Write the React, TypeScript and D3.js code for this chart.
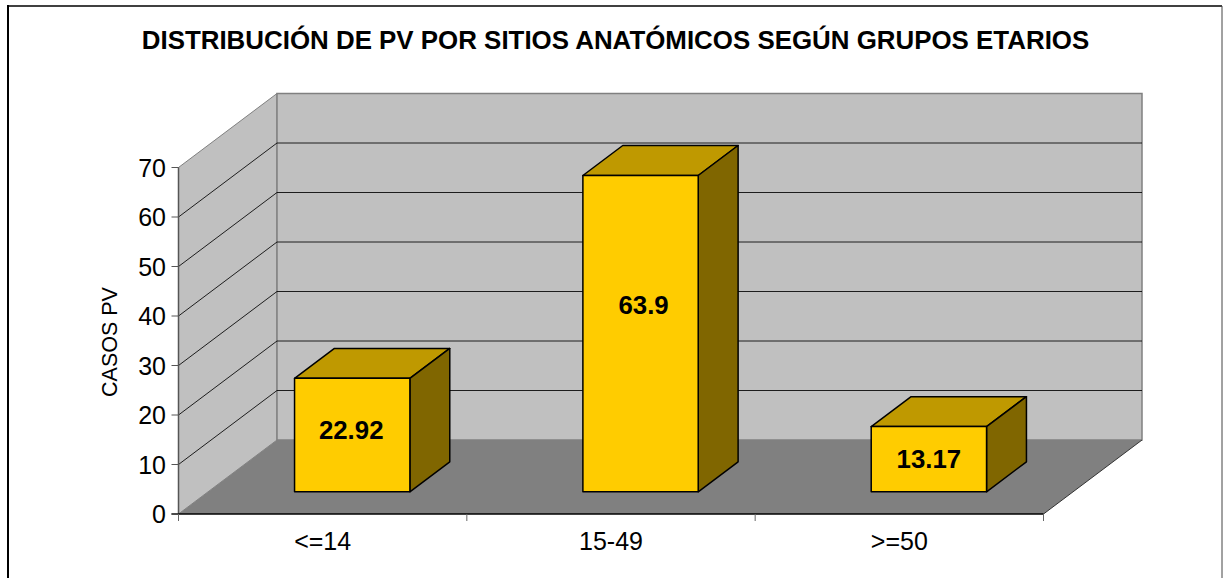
import React from "react";
import * as d3 from "d3";

const categories = ["<=14", "15-49", ">=50"];
const values = [22.92, 63.9, 13.17];
const valueLabels = ["22.92", "63.9", "13.17"];
const yTicks = [0, 10, 20, 30, 40, 50, 60, 70];
const titleText = "DISTRIBUCIÓN DE PV POR SITIOS ANATÓMICOS SEGÚN GRUPOS ETARIOS";
const yAxisTitle = "CASOS PV";

const FONT = "'Liberation Sans', Arial, sans-serif";
const DX = 98.5;
const DY = -74;

const y = d3.scaleLinear().domain([0, 70]).range([514, 167.5]);
const x = d3.scaleBand<string>().domain(categories).range([178.5, 1043.5]);

const pt = (px: number, py: number, depth = 0): [number, number] => [px + DX * depth, py + DY * depth];
const poly = (pts: [number, number][]) => pts.map((p) => p.join(",")).join(" ");

export default function App() {
  const x0 = x.range()[0];
  const x1 = x.range()[1];
  const yb = y(0);
  const yt = y(70);
  const bw = x.bandwidth() * 0.4;
  const d0 = 0.3;
  const d1 = 0.705;
  const labelNudgeX = [-1, 3, 0];
  return (
    <svg width={1230} height={578} style={{ position: "absolute", left: 0, top: 0, background: "#fff" }} fontFamily={FONT}>
      <line x1={8} x2={8} y1={5} y2={578} stroke="#000" strokeWidth={2} />
      <line x1={7} x2={1222} y1={6} y2={6} stroke="#000" strokeWidth={1.5} />
      <line x1={1222} x2={1222} y1={6} y2={578} stroke="#444" strokeWidth={1} />
      <text x={615.5} y={49} textAnchor="middle" fontWeight="bold" fontSize={25.9} fill="#000">{titleText}</text>

      {/* side wall */}
      <polygon points={poly([pt(x0, yb), pt(x0, yb, 1), pt(x0, yt, 1), pt(x0, yt)])} fill="#c0c0c0" stroke="#808080" strokeWidth={1} />
      {/* back wall */}
      <polygon points={poly([pt(x0, yb, 1), pt(x1, yb, 1), pt(x1, yt, 1), pt(x0, yt, 1)])} fill="#c0c0c0" stroke="#808080" strokeWidth={1.5} />
      {/* floor */}
      <polygon points={poly([pt(x0, yb), pt(x1, yb), pt(x1, yb, 1), pt(x0, yb, 1)])} fill="#808080" />

      {/* gridlines */}
      {yTicks.filter((t) => t > 0 && t < 70).map((t) => (
        <polyline key={t} points={poly([pt(x0, y(t)), pt(x0, y(t), 1), pt(x1, y(t), 1)])} fill="none" stroke="#000" strokeWidth={1} opacity={0.85} />
      ))}
      <line x1={pt(x1, yb)[0]} y1={yb} x2={pt(x1, yb, 1)[0]} y2={pt(x1, yb, 1)[1]} stroke="#333" strokeWidth={1} />

      {/* axes */}
      <line x1={x0} y1={yt} x2={x0} y2={yb} stroke="#555" strokeWidth={1.5} />
      <line x1={x0 - 7} y1={yb} x2={x1} y2={yb} stroke="#000" strokeWidth={1.5} />
      {yTicks.map((t) => (
        <g key={t}>
          <line x1={x0 - 7} x2={x0} y1={y(t)} y2={y(t)} stroke="#555" strokeWidth={1} />
          <text x={x0 - 12.5} y={y(t) + 9} textAnchor="end" fontSize={25} fill="#000">{t}</text>
        </g>
      ))}
      {[0, 1, 2, 3].map((i) => {
        const tx = x0 + i * x.step();
        return <line key={i} x1={tx} x2={tx} y1={yb} y2={yb + 7} stroke="#666" strokeWidth={1} />;
      })}
      {categories.map((c) => (
        <text key={c} x={(x(c) as number) + x.bandwidth() / 2} y={550} textAnchor="middle" fontSize={25} fill="#000">{c}</text>
      ))}
      <text transform="translate(117,342) rotate(-90)" textAnchor="middle" fontSize={21.5} fill="#000">{yAxisTitle}</text>

      {/* bars */}
      {categories.map((c, i) => {
        const cx = (x(c) as number) + x.bandwidth() / 2;
        const l = cx - bw / 2;
        const r = cx + bw / 2;
        const top = y(values[i]);
        const A = pt(l, yb, d0);
        const B = pt(r, yb, d0);
        const C = pt(r, top, d0);
        const D = pt(l, top, d0);
        const E = pt(l, top, d1);
        const F = pt(r, top, d1);
        const G = pt(r, yb, d1);
        const labelY = (A[1] + D[1]) / 2 + 9 - 0.56 * (values[i] - values[2]);
        return (
          <g key={c} stroke="#000" strokeWidth={1.5} strokeLinejoin="round">
            <polygon points={poly([D, C, F, E])} fill="#bf9900" />
            <polygon points={poly([B, G, F, C])} fill="#806600" />
            <polygon points={poly([A, B, C, D])} fill="#ffcc00" />
            <text x={(A[0] + B[0]) / 2 + labelNudgeX[i]} y={labelY} textAnchor="middle" fontWeight="bold" fontSize={25.8} stroke="none" fill="#000">{valueLabels[i]}</text>
          </g>
        );
      })}
    </svg>
  );
}
